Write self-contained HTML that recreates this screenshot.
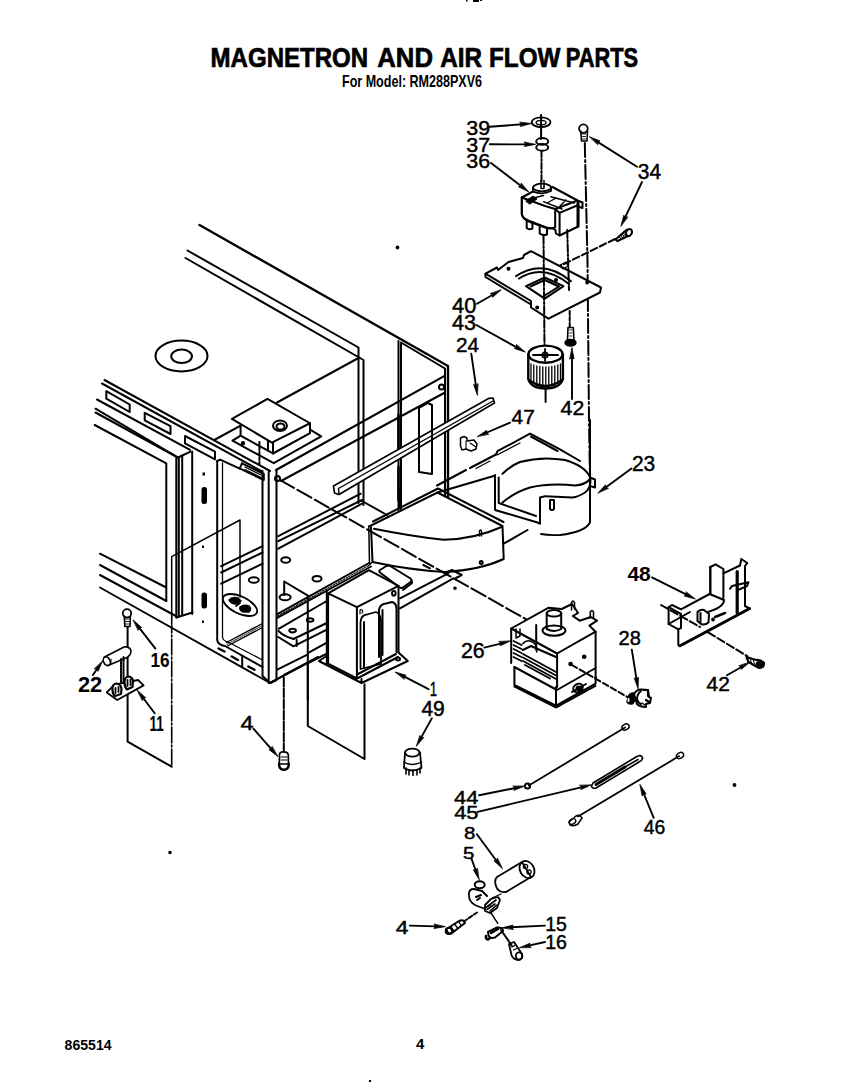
<!DOCTYPE html>
<html><head><meta charset="utf-8"><style>
html,body{margin:0;padding:0;background:#fff;}
svg{display:block;}
text{font-family:"Liberation Sans",sans-serif;fill:#000;}
</style></head><body>
<svg width="864" height="1089" viewBox="0 0 864 1089">
<g id="title">
<text x="210.6" y="66.8" font-size="27.5" font-weight="bold" textLength="157.6" lengthAdjust="spacingAndGlyphs" stroke="#000" stroke-width="0.7">MAGNETRON</text>
<text x="377.3" y="66.8" font-size="27.5" font-weight="bold" textLength="55.7" lengthAdjust="spacingAndGlyphs" stroke="#000" stroke-width="0.7">AND</text>
<text x="440.3" y="66.8" font-size="27.5" font-weight="bold" textLength="41.8" lengthAdjust="spacingAndGlyphs" stroke="#000" stroke-width="0.7">AIR</text>
<text x="489.0" y="66.8" font-size="27.5" font-weight="bold" textLength="71.4" lengthAdjust="spacingAndGlyphs" stroke="#000" stroke-width="0.7">FLOW</text>
<text x="565.8" y="66.8" font-size="27.5" font-weight="bold" textLength="72.4" lengthAdjust="spacingAndGlyphs" stroke="#000" stroke-width="0.7">PARTS</text>
<text x="342" y="86.5" font-size="17" font-weight="bold" textLength="140" lengthAdjust="spacingAndGlyphs">For Model: RM288PXV6</text>
<text x="64.6" y="1050.3" font-size="15.5" font-weight="bold" textLength="47" lengthAdjust="spacingAndGlyphs">865514</text>
<text x="416" y="1049" font-size="15" font-weight="bold">4</text>
<rect x="466" y="0" width="1.5" height="1.5" fill="#000"/><rect x="473" y="0" width="6" height="2" fill="#000"/><rect x="480" y="0" width="2" height="1" fill="#000"/>
<rect x="369" y="1080" width="2" height="2" fill="#000"/>
</g>
<g id="draw" fill="none" stroke="#000" stroke-width="2" stroke-linecap="round" stroke-linejoin="round">
<!-- cabinet top/back -->
<path d="M199.5,225 L448,366 L448,497" stroke-width="2.4"/>
<path d="M187.5,250.5 L358.5,347.5 L358.5,503"/>
<path d="M185.5,258 L363.5,360 L363.5,505"/>
<path d="M398.5,341 L398.5,510 M401,344 L401,509 M401,342.5 L445,368.5 L445,496"/>
<path d="M398.5,415 L398.5,450 M398.5,467 L398.5,500" stroke-width="2.6"/>
<path d="M277,402.5 L358.5,358"/>
<ellipse cx="181.5" cy="356" rx="26" ry="15.4"/>
<circle cx="397.5" cy="247.5" r="0.9" fill="#000"/>
<ellipse cx="181.6" cy="356.3" rx="10.4" ry="6.7"/>
<!-- right side top edges -->
<path d="M276,470 L445,375.6" stroke-width="2.2"/>
<path d="M281,481 L445,392.5"/>
<!-- front panel top -->
<path d="M104.5,380 L270,471" stroke-width="2"/>
<path d="M102,383.5 L262,471.5"/>
<path d="M97,399.5 L190.1,449.8"/>
<path d="M217.2,461 L220.2,459.6 L239.7,468.6 L242,463.4"/>
<path d="M242,463.4 L263.8,474 L263.8,480 L240,468.6"/>
<path d="M245,467 L261,475 M245,469.5 L261,477.5" stroke-width="1.2"/>
<path d="M95.5,408.7 L178,457.5 L190.5,451.7"/>
<path d="M95.5,412.5 L176,456.5"/>
<path d="M94.7,425 L166.3,463.3 L166.3,601 M166.3,587.5 L100,553.7"/>
<!-- slots -->
<path d="M106.3,391.2 L106.3,398.7 L129.7,412 L129.7,404.5 Z"/>
<path d="M144.7,412.8 L144.7,420.3 L170.5,434 L170.5,426.2 Z"/>
<path d="M185,436 L185,443.3 L215,459.3 L215,451.7 Z"/>
<!-- door frame -->
<path d="M176.3,458 L176.3,617.5 M178.8,457 L178.8,616 M182.2,455.5 L182.2,614.5 M192.2,451.5 L192.2,614"/>
<path d="M176.3,617.5 L192.5,612.5"/>
<path d="M100,565 L166.3,601 M100,575 L175.8,616"/>
<path d="M240,597 L240,520 L171.7,556.7 L171.7,617" stroke-width="1.5"/>
<path d="M171.7,617 L171.7,766.7" stroke-width="1.6" stroke-dasharray="16,2,2,2"/>
<path d="M100,587.5 L270,683" stroke-width="1.8"/>
<!-- middle strip marks -->
<rect x="202.5" y="472.5" width="2.5" height="3" fill="#000" stroke="none"/>
<rect x="201.5" y="487" width="5.5" height="17" rx="2.5" fill="#000" stroke="none"/>
<rect x="201.5" y="592.5" width="5.5" height="16" rx="2.5" fill="#000" stroke="none"/>
<rect x="202" y="545.5" width="2" height="2.5" fill="#000" stroke="none"/>
<rect x="202" y="620.5" width="2" height="2.5" fill="#000" stroke="none"/>
<!-- opening -->
<path d="M217.2,461 L217.2,640 Q218,645 225,646 L262.5,667"/>
<path d="M222.5,463 L222.5,637 Q223,641 228,642 L262.5,660" stroke-width="1.3"/>
<path d="M221.2,566.2 L262.5,546.2 M221.2,572.5 L262.5,552.5 M221.2,583.7 L262.5,563.7"/>
<ellipse cx="240" cy="605" rx="18.5" ry="8.5" transform="rotate(25 240 605)" stroke-width="1.8"/>
<path d="M229,600 Q232,596.5 238,598 L241,601 L236,604 Q231,604 229,600 Z" fill="#000" stroke-width="1.5"/>
<path d="M240,607 Q244,604 249,606 Q252,609 249,612 L243,612 Q239,610 240,607 Z" fill="#000" stroke-width="1.5"/>
<path d="M236,606 L240,603" stroke-width="1.8"/>
<path d="M218.5,648.5 L224.5,651.5 M231.7,656.5 L238,660 M248.3,666.5 L254.5,669.8" stroke-width="2.4"/>
<path d="M226.5,642.5 L261.5,624 M227.5,646 L261.5,628" stroke-width="1.4"/>
<path d="M227,644.3 L261.5,626" stroke-dasharray="1.2,1.2" stroke-width="1"/>
<ellipse cx="253.8" cy="580" rx="5" ry="2.8"/>
<path d="M242.2,656 L242.2,667"/>
<!-- corner post -->
<path d="M262.5,471 L262.5,676 L270,683 M268.7,472 L268.7,683 M276.5,470 L276.5,680 L270,683"/>
<!-- bottom right edge -->
<path d="M270,683 L318,657"/>
<circle cx="170" cy="852.5" r="0.8" fill="#000"/>
<!-- dashed magnetron line -->
<path d="M280,480 L536.2,625" stroke-dasharray="16,4"/>

<!-- waveguide box -->
<path d="M231.9,418.9 L267.5,398.9 L310,423.25 L271.9,442.6 Z"/>
<path d="M240.6,425.5 L240.6,435.7 L268,450.7 L273,453.5 L310,433.2 L310,423.25"/>
<path d="M268,441 L268,450.7 M273,443 L273,453.5"/>
<path d="M240.6,435.7 L232.5,440.7 L273.7,463.2 L321.2,436.4 L310,429.5"/>
<ellipse cx="280" cy="425.7" rx="7" ry="5.2"/>
<ellipse cx="280.5" cy="426.5" rx="4" ry="3"/>
<circle cx="243" cy="443.2" r="1.2" fill="#000"/>
<path d="M259.4,442 L259.4,464" stroke-dasharray="3,2"/>
<path d="M214.2,440 L240.6,425.7"/>
<!-- rail 24 -->
<path d="M333.5,486 L489,398.3 L493,398 L494.5,403 L339,494.5 L334.5,493 Z" fill="#fff" stroke-width="1.7"/>
<path d="M338.5,488.5 L493,401 M338.5,488.5 L339,494.5" stroke-width="1.4"/>
<!-- inner panel slot -->
<path d="M419,408 L428,403 L432,405 L432,474 L419,472 Z"/>
<!-- screws on panel -->
<circle cx="441.5" cy="387" r="2.5"/>
<circle cx="277.5" cy="478.5" r="2.5"/>
<!-- outlet duct -->
<path d="M370,526 L437.5,492.5 L501.5,525.5"/>
<path d="M373,521.5 L438,488.5 L503.5,522"/>
<path d="M374,528.7 Q410,536 443.7,539.8 Q475,539 501.5,527"/>
<path d="M371,527 L372.5,562 Q410,570 445,572 Q480,570 503.7,559 L502.5,526"/>
<path d="M368.8,526 L369.5,564.5 L372.5,562" stroke-width="1.5"/>
<path d="M503.7,543.7 L527.5,530"/>
<path d="M479.5,536 L479.5,531 Q480.5,529 481.5,531 L481.5,536" stroke-width="1.4"/>
<circle cx="481.2" cy="562.5" r="1.5"/>
<!-- fan housing -->
<path d="M530,433.7 L558.7,448.7 L580,461"/>
<path d="M531,436.5 L557.5,451"/>
<path d="M530,433.7 L497.5,451.2 L496,454.5 L470,468 M466,470 L437,485.5"/>
<path d="M497,455 L520,443 M490,461 L476,468.5" stroke-width="1.3"/>
<path d="M502.5,473.7 Q512,465 520,462 Q542,456 565,460 Q585,466 590,477 Q592,487 585,492.5 Q578,497 572.5,497.5 L545,496.2"/>
<path d="M502.5,502.5 Q515,492 530,487.5 Q550,483 575,485.5 Q585,485 590,479"/>
<path d="M495,475 L495,510 L537.5,522.5 L540,523.7 L540,497.5 L544,496.5"/>
<path d="M498.7,477.5 L498.7,503 L536,516"/>
<path d="M590,420 L590,522.5 Q585,532 560,535 Q548,535.5 541,534"/>
<path d="M590,477.5 L595,479.5 L595,487.5 L590,486"/>
<path d="M550,500 L554,500 L554,509 Q552,511 550,509 Z"/>
<path d="M437.5,492.5 L493.7,476"/>

<!-- interior rails -->
<path d="M278.3,536.2 L360.7,493.7 M278.3,541.2 L362,500 M278.3,548.7 L362,503.7"/>
<path d="M362,501 L387,515"/>
<path d="M399.5,490 L399.5,507.5"/>
<ellipse cx="285.7" cy="560" rx="4.5" ry="2.8"/>
<ellipse cx="317" cy="578.7" rx="4.5" ry="2.8"/>
<ellipse cx="285.1" cy="597.2" rx="5.5" ry="3"/>
<!-- bracket left of transformer -->
<path d="M284.2,581.5 L284.2,594.9 M284.2,581.5 L308.3,595.8"/>
<!-- thick base edge (hatched) -->
<path d="M277.7,613.9 L369,563 M277.7,617.7 L371,566.5" stroke-width="1.9"/>
<path d="M278,615.8 L370,564.8" stroke-dasharray="1.5,1.5" stroke-width="1.2"/>
<!-- bracket plate with hole -->
<path d="M279,628.7 L326.8,601"/>
<path d="M278.5,631 Q283,636 293.5,639 L326.8,623"/>
<path d="M278.2,637 L293.5,646.3 L326.8,629.6 M296.7,640 L296.7,646"/>
<ellipse cx="292.6" cy="630.6" rx="3.3" ry="1.8"/>
<ellipse cx="310.1" cy="620" rx="3.3" ry="1.8"/>
<path d="M308.3,652.8 L326.8,642.6 M308.3,663 L326.8,653.7 M277.7,669.4 L307.4,654.6 M284.2,675 L307.4,663"/>
<path d="M326.8,591.7 L326.8,663.9"/>
<!-- projection line from transformer -->
<path d="M307.8,597 L307.8,700"/>
<!-- transformer -->
<path d="M328.1,593.3 L368.9,570.2 L398.5,585.9 L398.5,652.6 L356.9,678.5 L328.1,663.7 Z" fill="#fff" stroke="none"/>
<path d="M328.1,593.3 L368.9,570.2 L398.5,585.9 L356.9,607.2 Z" fill="#fff"/>
<path d="M328.1,593.3 L328.1,663.7 L356.9,678.5 L356.9,607.2 M398.5,585.9 L398.5,652.6"/>
<path d="M318.9,661 L328.1,655 M318.9,661 L361.5,683 L407.8,661 L398.5,652.6 M361.5,683 L361.5,679"/>
<path d="M360.5,669 L360.5,622 Q361,615 367,614.5 L376,612 Q380,613 381,620 L381,664 Z" stroke-width="1.8"/>
<path d="M364,667 L364,622"/>
<path d="M379,657 L379,610 Q380,604 386,603.5 L392,602 Q396.5,603 396.5,609 L396.5,652"/>
<path d="M382.5,655 L382.5,610"/>
<path d="M360,610 L360,614 M360.5,609.5 Q364,610 362,613" stroke-width="1.2"/>
<ellipse cx="393.8" cy="593.3" rx="1.8" ry="2.4"/>
<ellipse cx="398" cy="659" rx="2" ry="1.5"/>
<path d="M358,678 L398,657 M358,674 L396,654"/>
<!-- magnetron mount plate lines -->
<path d="M400,598.3 L448.3,573.3 M400,608.3 L453.3,578.3"/>
<path d="M446.7,572.5 L452,570 L461.7,575 L456,578"/>
<circle cx="455" cy="588.3" r="0.8" fill="#000"/>
<path d="M423.3,565 L430,568.3" stroke-width="2"/>
<!-- plate under duct -->
<path d="M380,570 Q378.5,571.5 380,572.5 L399,587 Q401,588.6 403,587.5 L410.5,582 Q412.5,580 410.5,578.5 L391,566.5 Q388.5,565 386.5,566 Z"/>
<path d="M411.5,580.5 L412,583 L403,590"/>

<!-- magnetron -->
<path d="M511.2,628.5 L548.7,607.7 L561.7,609 L572,604 L575.5,609 L578,613 L572.8,616 L579.7,620.7 L590.8,617 L597,620.7 L589.4,625.6 L595.6,631.7 L557.1,653.5 Z" fill="#fff"/>
<path d="M571.5,610 L571.5,602.5 Q573,599.5 574.5,602.5 L574.5,609 M590.3,618 L590.3,612 Q592,609 593.5,612 L593.5,618" stroke-width="1.6"/>
<path d="M511.2,628.5 L511.2,662.9 M557.1,653.5 L557.1,687 M595.6,631.7 L595.6,677.5"/>
<ellipse cx="554" cy="630.6" rx="11.5" ry="5.2"/>
<path d="M546.7,613.3 L546.7,629 Q554,633 561.2,629 L561.2,613.3"/>
<ellipse cx="554" cy="613.3" rx="7.3" ry="3.2"/>
<!-- fins -->
<path d="M513.5,641 L521.5,645 M513.5,645 L521.5,649 M513.5,649 L521.5,653 M513.5,653 L521.5,657 M513.5,657 L521.5,661" stroke-width="1.7"/>
<path d="M522.8,650 L531,646 L541,650.5 L556,657"/>
<path d="M523,654 L556,672 M523,657.5 L556,675.5 M523,661 L556,679 M525,665 L550,678.5" stroke-width="1.9"/>
<path d="M522.8,643.6 Q526,640 530,641 Q536,643 536.7,648 L536.7,652" stroke-width="1.5"/>
<path d="M516,629 L516,638 L520,636 L520,629" stroke-width="1.5"/>
<!-- lower body -->
<path d="M514.4,667 L514.4,685 L556,705.6 L595.6,683.7 L595.6,677 M556,705.6 L556,687"/>
<path d="M514.4,686.5 L556,707.5 L596,685.5" stroke-dasharray="1.5,1" stroke-width="2"/>
<path d="M514.4,667 L557,690 L595.6,668"/>
<ellipse cx="578" cy="688" rx="5" ry="4" transform="rotate(-30 578 688)"/>
<ellipse cx="579" cy="688.5" rx="2.5" ry="2" fill="#000"/>
<path d="M572,692 L586,684" />
<circle cx="584.2" cy="656.7" r="1.3" fill="#000"/>
<circle cx="570.6" cy="664" r="1.3" fill="#000"/>
<path d="M571.7,665 L630,698.5" stroke-dasharray="6,3"/>
<!-- dashed main line end -->
<path d="M536.2,625 L536.2,650"/>
<!-- part 28 -->
<path d="M628,697 Q630,692.5 634,693 L637,697 L633,703.5 Q629,705 627,702 Z" fill="#000" stroke-width="1.4"/>
<ellipse cx="628.5" cy="700" rx="1" ry="2.2" fill="#fff" stroke="none"/>
<path d="M634,694 Q637,689 642,689.5 L648,690 L649,697 L651,698 L650,703 L646,704 L646,707 Q640,707 637,704 Z" fill="#fff" stroke-width="2"/>
<path d="M641,691 Q637,694 637,699 Q638,703 641,704" stroke-width="2"/>
<path d="M644,690 L648,690 L648,696 M646,700 L649,702" stroke-width="2.2"/>
<path d="M642,703 L645,705" stroke-width="1.2"/>

<!-- 39 washer -->
<path d="M541.1,115 L541.1,139"/>
<ellipse cx="541.1" cy="122.2" rx="9.4" ry="4.8" stroke-width="1.8"/>
<ellipse cx="541.1" cy="122.6" rx="5" ry="2.3" stroke-width="1.3"/>
<!-- 37 nut -->
<ellipse cx="542.2" cy="141.4" rx="6" ry="3.3" stroke-width="2"/>
<ellipse cx="542.2" cy="147.4" rx="6" ry="3.3" stroke-width="2"/>
<path d="M541.5,151 L541.5,183" stroke-dasharray="6,2,2,2"/>
<!-- 34 screw top -->
<circle cx="583.4" cy="128.6" r="4.3" stroke-width="1.8"/>
<path d="M580.7,131 L581.5,141 L587,141 L587.5,131" stroke-width="1.6"/>
<path d="M582.5,134 L585.5,134 M582.5,136.5 L585.5,136.5 M582.5,139 L585.5,139" stroke-width="0.9"/>
<!-- long vertical dash-dot line at x~587 -->
<path d="M584.8,143 L587.5,262 L589,420 L590,478" stroke-dasharray="14,3,2,3"/>
<!-- 36 motor -->
<path d="M521.8,197.5 L532,192 L552.5,187 L577.5,200.5 L582.5,202.5 L582.5,208 L578.2,206.5 L578.2,226.5 L559.6,235.5 L556,233.5 L555.2,229.5 Q553,228 548,228.5 L530,222 Q522,218 521.8,214 Z" fill="#fff" stroke-width="2"/>
<path d="M521.8,197.5 L521.8,214 Q522.5,218.5 528,220.5 L545,227 Q552,229.5 555.2,227 L555.2,209"/>
<path d="M521.8,197.5 L545,206 L555.2,209 L577.5,200.5"/>
<path d="M555.2,209 L559.6,212.9 L559.6,235.5 M559.6,212.9 L578.2,205"/>
<path d="M578,203 L578,226" stroke-width="3"/>
<path d="M528.6,199.2 L543.5,195.5 M543.5,201.7 L562,209 M550.9,196.7 L574.4,203 M556,198 L548,202.5 M566,200 L560,206" stroke-width="1.4"/>
<path d="M526,201 L533,196 L537,199 L530,204 Z" fill="#000" stroke-width="1"/>
<path d="M533,191.5 L533,187.5 Q542,183 551,187.5 L551,191 Q542,195.5 533,191.5 Z" fill="#fff" stroke-width="1.8"/>
<ellipse cx="542" cy="187.5" rx="9" ry="3.8" fill="#fff" stroke-width="1.8"/>
<path d="M541,180.5 L541,188.5 L544,188.5 L544,180.5" stroke-width="1.5"/>
<path d="M526.7,219.6 L526.7,228 Q529,230 532.4,228.5 L532.4,222"/>
<path d="M539.7,226 L539.7,233.5 Q543,236 547,234.5 L547,228"/>
<!-- 34 lower screw -->
<path d="M615.5,239.5 L624,232 L627,229.5 M617.5,241 L627,236.5 L629.5,236" stroke-width="2"/>
<path d="M615.5,239.5 L617.5,241" stroke-width="2"/>
<ellipse cx="629" cy="232.5" rx="2.8" ry="3.6" transform="rotate(30 629 232.5)" stroke-width="2"/>
<path d="M619.5,237 L621,239 M622.5,234.5 L624,236.5" stroke-width="1.2"/>
<path d="M621,235.5 L623,238.5 M624,233.5 L626,236.5" stroke-width="1"/>
<path d="M615,239 L561,265.5" stroke-dasharray="7,3"/>
<!-- 40 plate -->
<path d="M485.5,273.7 L497,267.5 L498,270 L508.5,262 L523,258 L524,255 L531,251.2 L601,287.5 L600,292.5 L548.5,318.7 L531,307.5 L531,301 Z" fill="#fff"/>
<path d="M485.5,273.7 L485.5,277 L531,304.5"/>
<path d="M526,286.2 L544.7,277.5 L563.5,286.2 L544.7,298.7 Z"/>
<path d="M530.5,286.5 L544.7,280 L559,286.5 L544.7,295.5"/>
<path d="M516,276.2 Q543,258 571,281.2 M519,278.5 Q543,263 569,284"/>
<circle cx="508.5" cy="268.7" r="1" fill="#000"/>
<circle cx="556" cy="280" r="1" fill="#000"/>
<circle cx="537.2" cy="307.5" r="1" fill="#000"/>
<circle cx="587.2" cy="282.5" r="1" fill="#000"/>
<path d="M560,265 L566,262 L568,266 L563,269 Z" stroke-width="1.2"/>
<path d="M543.5,236 L544.5,345.4" stroke-dasharray="8,2,2,2"/>
<path d="M567.2,230 L569,290" stroke-dasharray="8,2,2,2"/>
<path d="M569.7,311 L569.7,327" stroke-dasharray="4,2"/>
<!-- 43 fan -->
<path d="M528.3,354.2 L528.3,379 Q531,388.5 545.5,388.5 Q560,388.5 562.9,379 L562.9,354.2" fill="#fff" stroke-width="2.4"/>
<path d="M531,364 L531,381 M533.8,365 L533.8,383.5 M536.8,366 L536.8,385.5 M539.8,366.5 L539.8,386.5 M542.8,367 L542.8,387 M545.8,367 L545.8,387 M548.8,367 L548.8,387 M551.8,366.5 L551.8,386.5 M554.8,366 L554.8,385.5 M557.8,365 L557.8,383.5 M560.5,364 L560.5,381" stroke-width="1.3"/>
<path d="M529,380 Q545,392 562,380" stroke-width="2.5"/>
<ellipse cx="545.5" cy="354.2" rx="17" ry="8.6" fill="#fff" stroke-width="2.4"/>
<path d="M533,355 L558,355" stroke-width="2"/>
<path d="M545,349 L545,361" stroke-width="1.8"/>
<circle cx="545" cy="355" r="2.8" stroke-width="1.6"/>
<path d="M545.6,389 L545.6,402"/>
<!-- 42 screw near fan -->
<path d="M568,327.5 L573.3,327.5 L574,340 L567.5,340 Z" stroke-width="1.6"/>
<ellipse cx="570.5" cy="342.8" rx="5.2" ry="3" fill="#000"/>
<path d="M569.5,330 L572,330 M569.5,333 L572,333 M569.5,336 L572,336" stroke-width="0.8"/>

<!-- 48 bracket -->
<path d="M710.3,567 L715.6,564.3 L723.4,569 L723.4,573.3 L740,565.5 L741.3,559 L747.3,563 L745,566 L745,606 L749.7,608.5 L679.7,646 L678.3,645 L678.3,629.4 L668.6,624 L668.6,607.2 L672,605 L681,609.3 L709.6,594 L710.3,594 Z" fill="#fff"/>
<path d="M710.3,567 L710.3,594 M723.4,573.3 L723.4,598 M709.6,594 L724,600 Q724,607 708,612 M668.6,624 L681,617 L690,612 M678.3,629.4 L681,628 M668.6,607.2 L681,614 L681,628"/>
<path d="M679.7,646 L749.7,608.5" stroke-width="2.6"/>
<path d="M737.2,571.5 L737.2,613" stroke-width="3.2"/>
<path d="M730,588.8 L732,586 L748.5,582.2 L747,586 L738,590"/>
<path d="M697.5,612 Q700,609 704,610 L709,614 L708.5,622.5 Q705,625.5 701,624 L697.5,621 Z" fill="#fff"/>
<path d="M700.5,613 L700.5,622"/>
<path d="M715,617 L725,613" stroke-width="2.5"/>
<circle cx="713" cy="619.5" r="0.9" fill="#000"/>
<path d="M708,632.3 L747.3,656.2" stroke-dasharray="8,3"/>
<path d="M661,605 L700,627" stroke-dasharray="8,3"/>
<!-- 42 screw lower right -->
<path d="M746.5,657 L756,660 Q761,659.5 764,663 Q764,668 759,668 L748.5,662 Z" stroke-width="2.2"/>
<ellipse cx="760" cy="664.5" rx="3.5" ry="3" fill="#000"/>
<path d="M750,658.5 L751.5,662.5 M753,659.5 L754.5,663.5" stroke-width="1"/>
<!-- wires -->
<path d="M528.8,785.6 L625,727.5" stroke-width="1.8"/>
<circle cx="527.5" cy="786" r="2.6" stroke-width="2"/>
<ellipse cx="625.5" cy="727" rx="3.8" ry="2.8" transform="rotate(-30 625.5 727)" stroke-width="1.5"/>
<path d="M593,783 L636,757 Q641,754 642.5,757.5 Q643,760 639,762 L596,788 Q592,789 591.5,786 Z" stroke-width="1.6"/>
<path d="M596,784.5 L625,767" stroke-width="3"/>
<path d="M625,767 L638,759.5" stroke-width="1.6"/>
<circle cx="734.5" cy="785" r="0.9" fill="#000"/>
<path d="M578,816.5 L679.2,756.1" stroke-width="1.8"/>
<ellipse cx="680" cy="755.5" rx="3.8" ry="2.8" transform="rotate(-30 680 755.5)" stroke-width="1.5"/>
<path d="M569,822 L576,816 Q580,814 582,818 L578,824 Q573,827 570,825 Z" stroke-width="1.5"/>
<ellipse cx="572.5" cy="821.5" rx="3.5" ry="2.5" transform="rotate(-30 572.5 821.5)" stroke-width="1.3"/>
<!-- 8 capacitor -->
<path d="M497,877 L522,862 L531,877 L506,892 Q498,893 496,886 Q494,880 497,877 Z" fill="#fff" stroke-width="1.8"/>
<ellipse cx="527" cy="869.5" rx="7" ry="9" transform="rotate(-30 527 869.5)" stroke-width="1.8"/>
<circle cx="525.5" cy="866.5" r="2.2" stroke-width="1.2"/>
<circle cx="529" cy="872" r="2.2" stroke-width="1.2"/>
<!-- 5 and bracket -->
<ellipse cx="479.7" cy="884.8" rx="5" ry="3.5" stroke-width="2"/>
<path d="M474,889 Q469,889 468.8,894 L469.5,899 Q471,903 476,905.5 L484,908.5 L490,905" stroke-width="1.8"/>
<path d="M474,889 L482,891 L487,896"/>
<path d="M476,897 L481,895 M477,900 L480,898" stroke-width="2"/>
<path d="M485,905 L491,899 L498,897 L500,900 L497,908 L490,913 L485,911 Z" stroke-width="1.8"/>
<path d="M488,906 L496,900 M487,909.5 L495,904 M490,911 L497,905" stroke-width="1.6"/>
<path d="M492,898 L501,894" stroke-width="1.3"/>
<path d="M491,913 L497.8,923.4" stroke-width="1.4"/>
<path d="M477,912.5 L463,922" stroke-dasharray="4,2"/>
<path d="M446.5,929 L459,921 Q464,919 465,923 L452,933 Q447.5,935 446.5,929 Z" stroke-width="2"/>
<path d="M451,927 L453.5,930.5 M455,924.5 L457.5,928 M459,922 L461,925.5" stroke-width="1.3"/>
<circle cx="448.8" cy="931" r="3.2" stroke-width="1.8"/>
<!-- 15 nut 16 screw -->
<path d="M488,932 L497,927.5 Q503,927 503,931 L495,937.5 Q488,939.5 488,932 Z" stroke-width="2"/>
<path d="M491,933 L498,929" stroke-width="2.4"/>
<path d="M486,936 Q485.5,939 488,939.5 L490,938" stroke-width="2.6"/>
<path d="M501,930 L512,946"/>
<path d="M509,944 L514,942 L522,954 Q523.5,959.5 518,960 Q513,959.5 511.5,955 Z" stroke-width="1.8"/>
<ellipse cx="519" cy="956" rx="3.2" ry="3.6" stroke-width="1.8"/>
<path d="M512,947 L515,945.5 M513.5,950 L516.5,948.5" stroke-width="1.2"/>
<!-- left small parts: screw 16, fuse 22, holder 11 -->
<circle cx="127" cy="613.3" r="4.2" stroke-width="1.8"/>
<path d="M124.3,616 L124.8,626.5 L130,626.5 L130.4,616" stroke-width="1.6"/>
<path d="M125.5,619 L129,619 M125.5,621.5 L129,621.5 M125.5,624 L129,624" stroke-width="0.9"/>
<path d="M127.6,627 L127.6,741.7 L171.7,766.7"/>
<path d="M104.5,657 L124,647 Q130,646 131,651 Q131,655 127,657.5 L108,665.5" fill="#fff" stroke-width="1.6"/>
<ellipse cx="106.8" cy="661.2" rx="3.2" ry="4.6" transform="rotate(-25 106.8 661.2)" stroke-width="1.6"/>
<path d="M111,659 L111,664" stroke-width="1"/>
<path d="M121,659 L121,683 M123.5,657 L123.5,683" stroke-dasharray="2,1"/>
<path d="M106.8,692.4 L114.4,684.7 L138,680 L143.6,685.4 L117.2,700 Z" fill="#fff" stroke-width="1.8"/>
<path d="M112.5,690 Q112,684 116.5,683.5 Q121,684 121.5,689 L121,694 L115,696 Q112.5,694 112.5,690 Z" fill="#fff" stroke-width="2.2"/>
<path d="M115.5,688 L115.5,693 M118.5,687 L118.5,692" stroke-width="1.8"/>
<path d="M124.5,682 Q124.5,677 128.5,676.5 Q132.5,677 133,681 L132.5,687 L127,689.5 Q124.5,687 124.5,682 Z" fill="#fff" stroke-width="2.2"/>
<path d="M127.5,680 L127.5,686 M130.5,679.5 L130.5,685" stroke-width="1.8"/>
<!-- screw 4 middle -->
<path d="M283.8,677.5 L283.8,752" stroke-dasharray="9,2"/>
<path d="M279.5,754 Q280,751.5 284,751.8 Q288,752 288.3,755 L288.5,764 L279.3,764 Z" stroke-width="1.7"/>
<path d="M281,757 L287,757 M281,760 L287,760" stroke-width="1"/>
<path d="M279,764 Q279,769.5 283.8,769.8 Q288.8,769.5 288.8,764" stroke-width="2.4"/>
<!-- projection rect under transformer -->
<path d="M307.8,663.5 L307.8,726 L364.5,759 L364.5,684.3"/>
<!-- 49 -->
<path d="M405,752.5 L404,768 Q412,773 421.5,768 L420,752.5" fill="#fff" stroke-width="1.8"/>
<ellipse cx="412.3" cy="752.6" rx="7.2" ry="4" fill="#fff" stroke-width="1.8"/>
<path d="M403.8,762 Q412,767 421.5,762" stroke-width="1.4"/>
<path d="M406,768 L406,774 M409,769.5 L409,775 M413,770 L413,775.5 M417,769.5 L417,775 M420,768 L420,773" stroke-width="1.6"/>
<!-- 47 clip -->
<path d="M460.5,438 L464,436.5 L467,438 L467,441 L474,440 L477,444 L476,449 L471,451 L466,449 L462,450 L460.5,446 Z" stroke-width="1.5"/>
<path d="M466,441 L466,449 M470,443 L476,447" stroke-width="1.1"/>


</g>
<g id="arrows" fill="none" stroke="#000" stroke-linecap="round" stroke-linejoin="round">
<path d="M489.8,126.8 L522.1,124.3" stroke-width="1.9"/><path d="M531.1,123.6 L520.3,126.5 L521.6,124.3 L520.0,122.4 Z" fill="#000" stroke-width="0.8"/>
<path d="M489.8,144.3 L526.3,144.4" stroke-width="1.9"/><path d="M535.3,144.4 L524.3,146.5 L525.8,144.4 L524.3,142.3 Z" fill="#000" stroke-width="0.8"/>
<path d="M491.0,163.0 L521.4,186.3" stroke-width="1.9"/><path d="M528.5,191.8 L518.5,186.8 L521.0,186.0 L521.1,183.4 Z" fill="#000" stroke-width="0.8"/>
<path d="M637.0,166.8 L597.2,141.6" stroke-width="1.9"/><path d="M589.6,136.8 L600.0,140.9 L597.6,141.9 L597.8,144.5 Z" fill="#000" stroke-width="0.8"/>
<path d="M642.0,182.0 L624.9,217.9" stroke-width="1.9"/><path d="M621.0,226.0 L623.8,215.2 L625.1,217.4 L627.6,217.0 Z" fill="#000" stroke-width="0.8"/>
<path d="M477.0,303.8 L493.2,294.5" stroke-width="1.9"/><path d="M501.0,290.0 L492.5,297.3 L492.8,294.7 L490.4,293.7 Z" fill="#000" stroke-width="0.8"/>
<path d="M476.3,325.0 L517.1,347.6" stroke-width="1.9"/><path d="M525.0,352.0 L514.4,348.5 L516.7,347.4 L516.4,344.8 Z" fill="#000" stroke-width="0.8"/>
<path d="M471.3,353.8 L476.0,386.1" stroke-width="1.9"/><path d="M477.3,395.0 L473.6,384.4 L475.9,385.6 L477.8,383.8 Z" fill="#000" stroke-width="0.8"/>
<path d="M572.0,399.0 L572.0,357.0" stroke-width="1.9"/><path d="M572.0,348.0 L574.1,359.0 L572.0,357.5 L569.9,359.0 Z" fill="#000" stroke-width="0.8"/>
<path d="M510.0,422.7 L485.8,433.0" stroke-width="1.9"/><path d="M477.5,436.5 L486.8,430.3 L486.2,432.8 L488.4,434.1 Z" fill="#000" stroke-width="0.8"/>
<path d="M631.5,468.5 L605.3,487.7" stroke-width="1.9"/><path d="M598.0,493.0 L605.6,484.8 L605.7,487.4 L608.1,488.2 Z" fill="#000" stroke-width="0.8"/>
<path d="M652.0,577.4 L687.0,594.9" stroke-width="1.9"/><path d="M695.0,598.9 L684.2,595.9 L686.5,594.7 L686.1,592.1 Z" fill="#000" stroke-width="0.8"/>
<path d="M631.8,649.6 L636.6,679.6" stroke-width="1.9"/><path d="M638.0,688.5 L634.2,678.0 L636.5,679.1 L638.3,677.3 Z" fill="#000" stroke-width="0.8"/>
<path d="M727.0,675.3 L741.9,666.7" stroke-width="1.9"/><path d="M749.7,662.2 L741.2,669.5 L741.5,666.9 L739.1,665.9 Z" fill="#000" stroke-width="0.8"/>
<path d="M484.3,647.6 L501.5,643.3" stroke-width="1.9"/><path d="M510.2,641.1 L500.0,645.8 L501.0,643.4 L499.0,641.7 Z" fill="#000" stroke-width="0.8"/>
<path d="M428.5,689.2 L403.4,676.2" stroke-width="1.9"/><path d="M395.4,672.1 L406.1,675.3 L403.8,676.5 L404.2,679.0 Z" fill="#000" stroke-width="0.8"/>
<path d="M431.8,718.4 L420.8,738.1" stroke-width="1.9"/><path d="M416.4,746.0 L419.9,735.4 L421.0,737.7 L423.6,737.4 Z" fill="#000" stroke-width="0.8"/>
<path d="M253.4,728.6 L271.8,749.6" stroke-width="1.9"/><path d="M277.7,756.4 L268.9,749.5 L271.4,749.2 L272.0,746.7 Z" fill="#000" stroke-width="0.8"/>
<path d="M155.4,648.6 L138.7,627.2" stroke-width="1.9"/><path d="M133.2,620.1 L141.6,627.5 L139.0,627.6 L138.3,630.1 Z" fill="#000" stroke-width="0.8"/>
<path d="M92.9,675.0 L97.4,668.5" stroke-width="1.9"/><path d="M102.6,661.1 L98.0,671.3 L97.2,668.9 L94.6,668.9 Z" fill="#000" stroke-width="0.8"/>
<path d="M154.7,713.2 L142.8,697.5" stroke-width="1.9"/><path d="M137.4,690.3 L145.7,697.8 L143.1,697.9 L142.4,700.3 Z" fill="#000" stroke-width="0.8"/>
<path d="M479.1,795.2 L515.5,788.0" stroke-width="1.9"/><path d="M524.3,786.2 L513.9,790.4 L515.0,788.1 L513.1,786.3 Z" fill="#000" stroke-width="0.8"/>
<path d="M477.6,811.8 L582.2,787.1" stroke-width="1.9"/><path d="M591.0,785.0 L580.8,789.6 L581.8,787.2 L579.8,785.5 Z" fill="#000" stroke-width="0.8"/>
<path d="M476.9,834.3 L496.8,861.2" stroke-width="1.9"/><path d="M502.2,868.4 L494.0,860.8 L496.5,860.8 L497.3,858.3 Z" fill="#000" stroke-width="0.8"/>
<path d="M653.7,817.8 L643.5,793.0" stroke-width="1.9"/><path d="M640.1,784.7 L646.2,794.1 L643.7,793.5 L642.3,795.7 Z" fill="#000" stroke-width="0.8"/>
<path d="M471.4,858.5 L475.9,870.9" stroke-width="1.9"/><path d="M479.0,879.4 L473.3,869.8 L475.8,870.5 L477.2,868.3 Z" fill="#000" stroke-width="0.8"/>
<path d="M409.8,925.6 L436.0,926.4" stroke-width="1.9"/><path d="M445.0,926.7 L433.9,928.5 L435.5,926.4 L434.1,924.3 Z" fill="#000" stroke-width="0.8"/>
<path d="M545.0,925.6 L511.2,927.3" stroke-width="1.9"/><path d="M502.2,927.8 L513.1,925.1 L511.7,927.3 L513.3,929.3 Z" fill="#000" stroke-width="0.8"/>
<path d="M545.0,942.0 L528.6,945.6" stroke-width="1.9"/><path d="M519.8,947.6 L530.1,943.2 L529.1,945.5 L531.0,947.3 Z" fill="#000" stroke-width="0.8"/>

</g>
<g id="labels">
<text x="466.2" y="135.4" font-size="19.7" stroke="#000" stroke-width="0.45" textLength="23.9" lengthAdjust="spacingAndGlyphs">39</text>
<text x="466.2" y="151.7" font-size="20.5" stroke="#000" stroke-width="0.45" textLength="23.9" lengthAdjust="spacingAndGlyphs">37</text>
<text x="466.2" y="168.3" font-size="19.7" stroke="#000" stroke-width="0.45" textLength="23.9" lengthAdjust="spacingAndGlyphs">36</text>
<text x="637.8" y="179.1" font-size="22.6" stroke="#000" stroke-width="0.45" textLength="23.3" lengthAdjust="spacingAndGlyphs">34</text>
<text x="452.0" y="312.9" font-size="22.2" stroke="#000" stroke-width="0.45" textLength="24.3" lengthAdjust="spacingAndGlyphs">40</text>
<text x="452.0" y="329.9" font-size="21.8" stroke="#000" stroke-width="0.45" textLength="24.0" lengthAdjust="spacingAndGlyphs">43</text>
<text x="455.9" y="352.0" font-size="20.9" stroke="#000" stroke-width="0.45" textLength="23.1" lengthAdjust="spacingAndGlyphs">24</text>
<text x="560.6" y="414.8" font-size="21.1" stroke="#000" stroke-width="0.45" textLength="23.7" lengthAdjust="spacingAndGlyphs">42</text>
<text x="511.6" y="423.6" font-size="20.3" stroke="#000" stroke-width="0.45" textLength="23.2" lengthAdjust="spacingAndGlyphs">47</text>
<text x="631.9" y="470.8" font-size="22.2" stroke="#000" stroke-width="0.45" textLength="23.3" lengthAdjust="spacingAndGlyphs">23</text>
<text x="627.4" y="580.8" font-size="20.3" font-weight="bold" textLength="23.4" lengthAdjust="spacingAndGlyphs">48</text>
<text x="618.6" y="645.4" font-size="19.4" stroke="#000" stroke-width="0.45" textLength="22.3" lengthAdjust="spacingAndGlyphs">28</text>
<text x="706.6" y="691.3" font-size="19.4" stroke="#000" stroke-width="0.45" textLength="23.2" lengthAdjust="spacingAndGlyphs">42</text>
<text x="461.0" y="658.2" font-size="21.2" stroke="#000" stroke-width="0.45" textLength="23.7" lengthAdjust="spacingAndGlyphs">26</text>
<text x="429.8" y="695.8" font-size="20.8" stroke="#000" stroke-width="0.45" textLength="7.4" lengthAdjust="spacingAndGlyphs">1</text>
<text x="421.4" y="715.6" font-size="21.5" stroke="#000" stroke-width="0.45" textLength="23.4" lengthAdjust="spacingAndGlyphs">49</text>
<text x="240.4" y="730.3" font-size="20.5" stroke="#000" stroke-width="0.45" textLength="13.1" lengthAdjust="spacingAndGlyphs">4</text>
<text x="150.4" y="666.7" font-size="20.4" font-weight="bold" textLength="19.1" lengthAdjust="spacingAndGlyphs">16</text>
<text x="78.0" y="692.4" font-size="21.4" font-weight="bold" textLength="24.2" lengthAdjust="spacingAndGlyphs">22</text>
<text x="149.6" y="730.6" font-size="21.4" font-weight="bold" textLength="14.3" lengthAdjust="spacingAndGlyphs">11</text>
<text x="454.1" y="804.3" font-size="19.0" stroke="#000" stroke-width="0.45" textLength="24.3" lengthAdjust="spacingAndGlyphs">44</text>
<text x="454.2" y="819.3" font-size="18.9" stroke="#000" stroke-width="0.45" textLength="24.3" lengthAdjust="spacingAndGlyphs">45</text>
<text x="464.0" y="838.7" font-size="16.9" stroke="#000" stroke-width="0.45" textLength="11.4" lengthAdjust="spacingAndGlyphs">8</text>
<text x="643.7" y="834.4" font-size="21.1" stroke="#000" stroke-width="0.45" textLength="21.5" lengthAdjust="spacingAndGlyphs">46</text>
<text x="462.9" y="858.5" font-size="16.9" stroke="#000" stroke-width="0.45" textLength="11.4" lengthAdjust="spacingAndGlyphs">5</text>
<text x="395.8" y="934.4" font-size="18.4" stroke="#000" stroke-width="0.45" textLength="12.7" lengthAdjust="spacingAndGlyphs">4</text>
<text x="545.2" y="931.0" font-size="19.8" stroke="#000" stroke-width="0.45" textLength="21.7" lengthAdjust="spacingAndGlyphs">15</text>
<text x="545.2" y="948.7" font-size="20.0" stroke="#000" stroke-width="0.45" textLength="21.7" lengthAdjust="spacingAndGlyphs">16</text>
</g>
</svg>
</body></html>
